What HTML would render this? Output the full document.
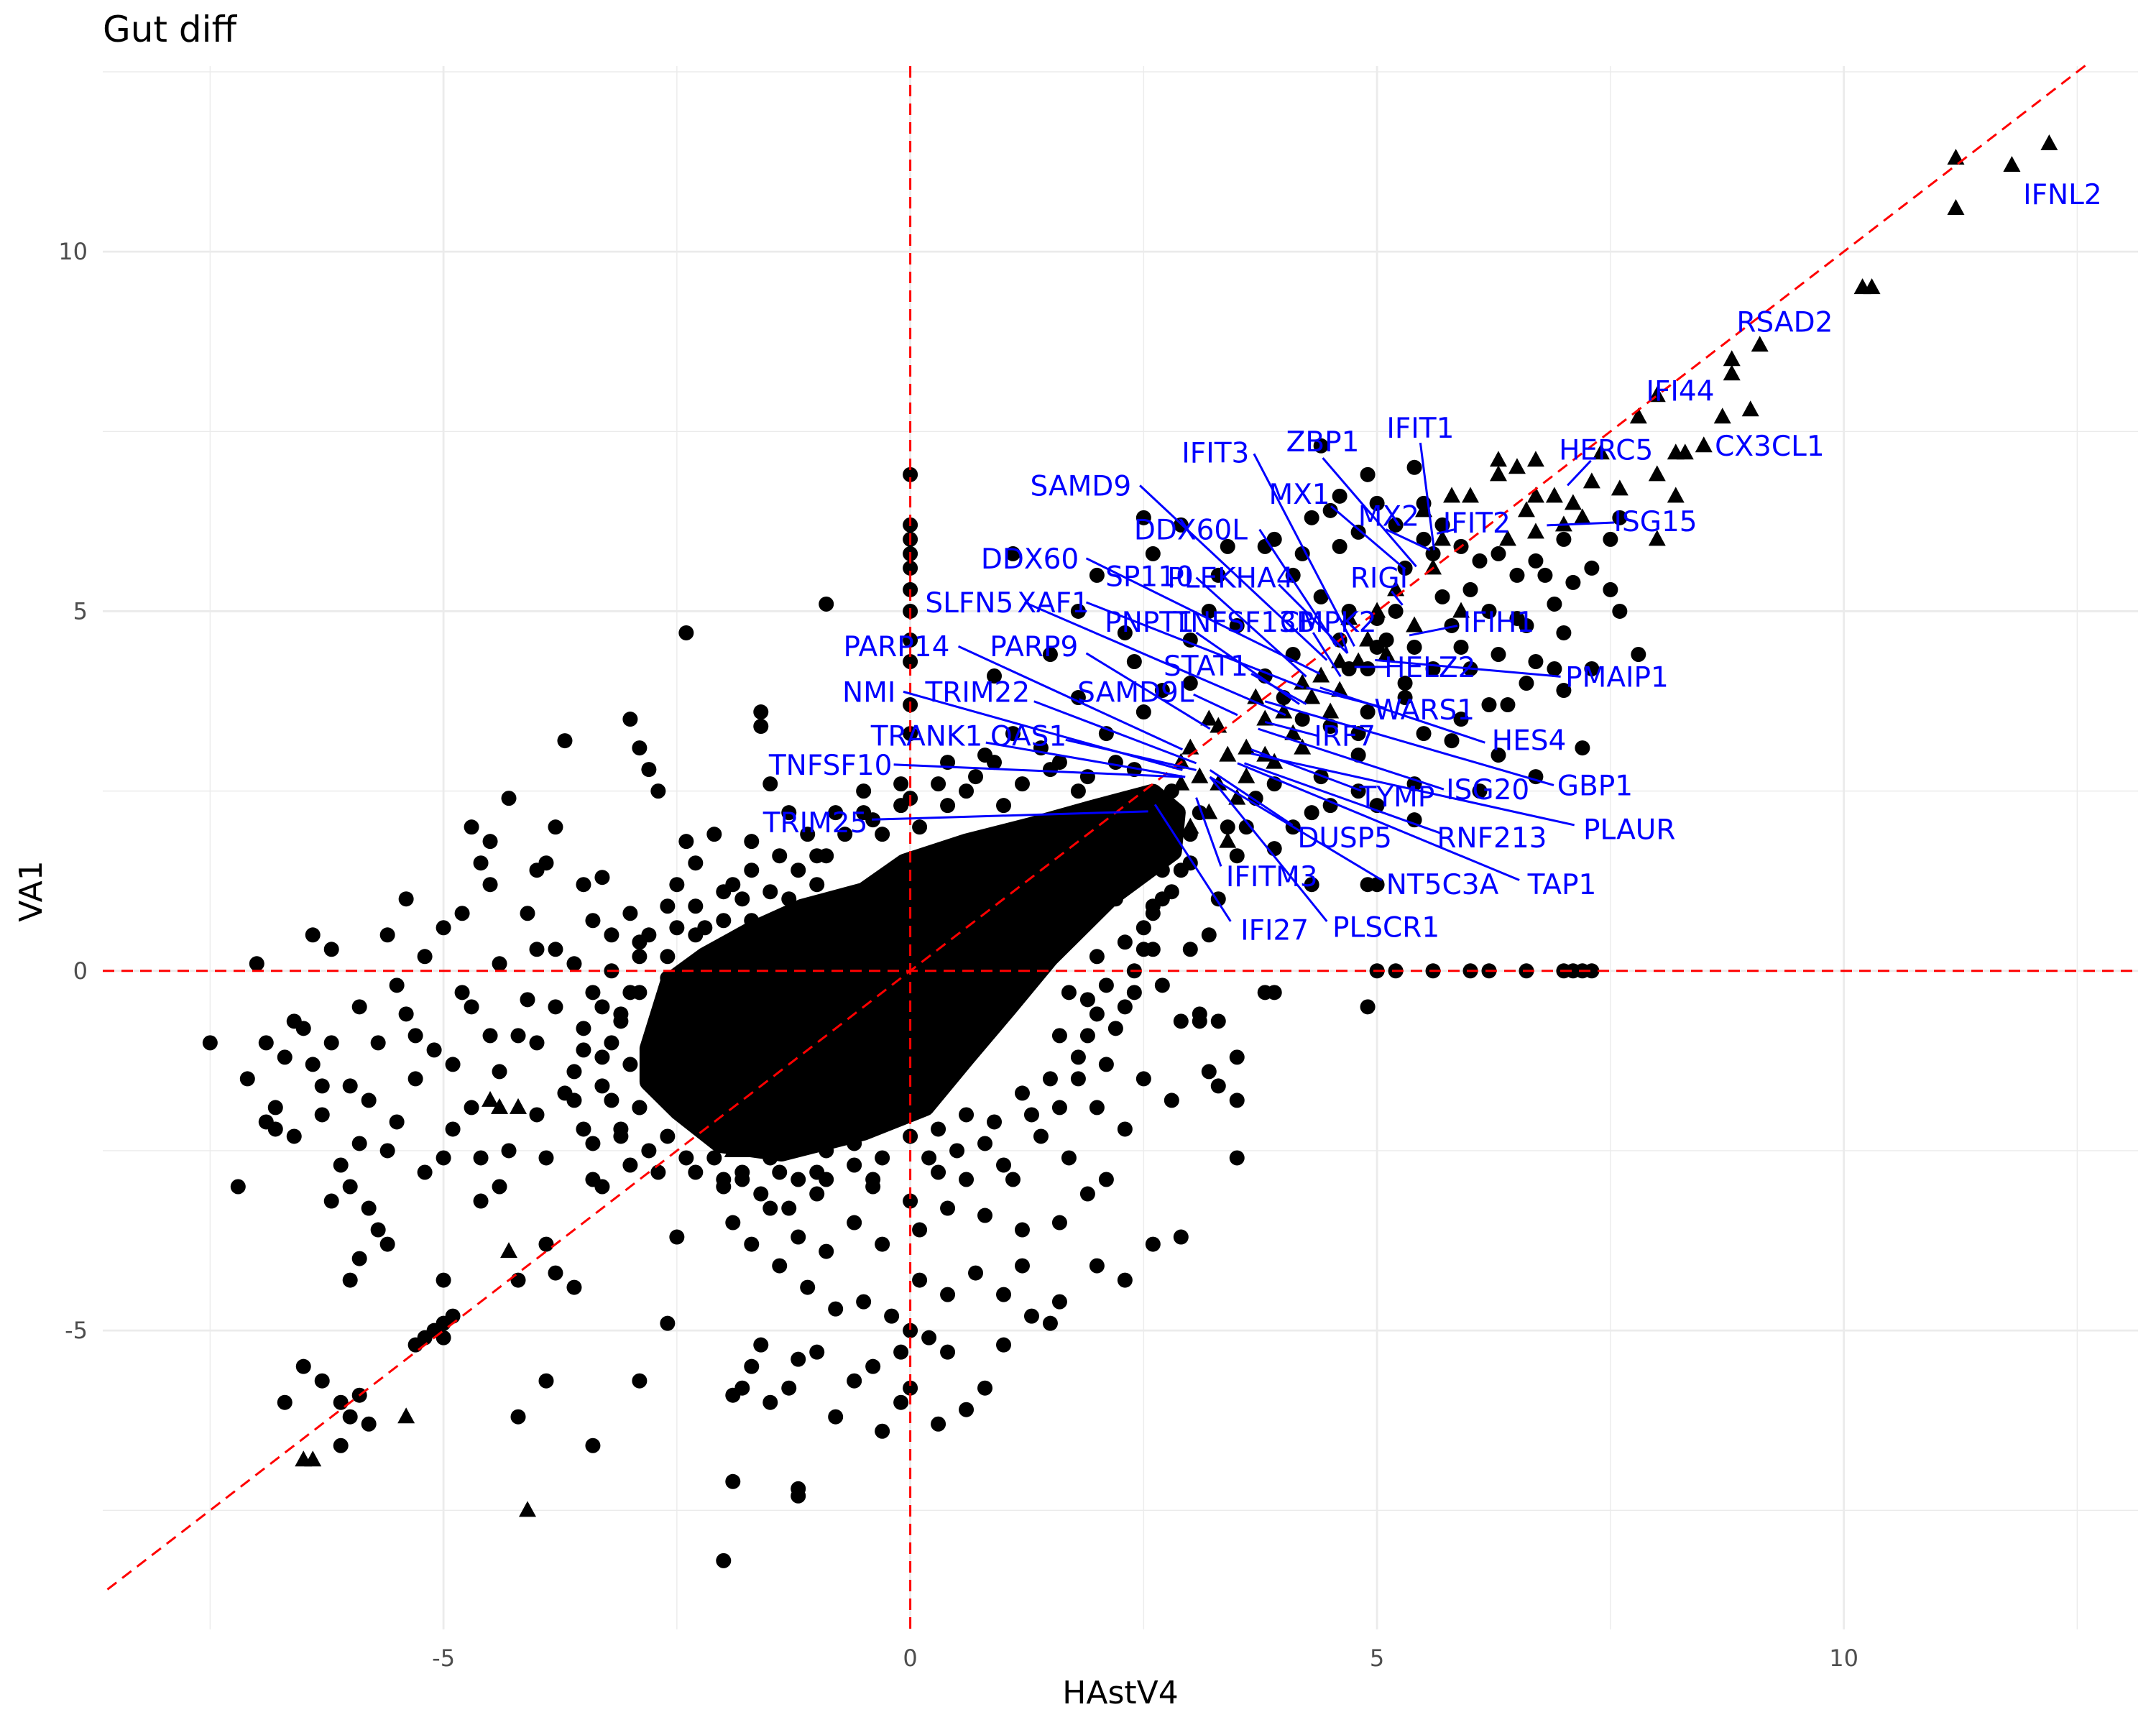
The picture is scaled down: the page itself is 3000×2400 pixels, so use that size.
<!DOCTYPE html>
<html><head><meta charset="utf-8"><style>
html,body{margin:0;padding:0;background:#fff;}
svg{display:block;font-family:"DejaVu Sans","Liberation Sans",sans-serif;}
</style></head><body>
<svg id="chart" width="3000" height="2400" viewBox="0 0 3000 2400" xmlns="http://www.w3.org/2000/svg">
<rect width="3000" height="2400" fill="#fff"/>
<text x="143" y="58" font-size="50" fill="#000">Gut diff</text>
<g id="grid"></g>
<g id="marks"></g>
<g id="refs"></g>
<g id="labels"></g>
<g id="axes"></g>
<text x="1559" y="2370" font-size="44" text-anchor="middle" fill="#000">HAstV4</text>
<text x="0" y="0" font-size="44" text-anchor="middle" fill="#000" transform="translate(58,1240) rotate(-90)">VA1</text>
</svg>
<script>
const xTicks=[-5,0,5,10];
const yTicks=[-5,0,5,10];
const xMinor=[-7.5,-2.5,2.5,7.5,12.5];
const yMinor=[-7.5,-2.5,2.5,7.5,12.5];
const triangles=[[12.2,11.5],[11.8,11.2],[11.2,11.3],[11.2,10.6],[10.2,9.5],[10.3,9.5],[9.1,8.7],[8.8,8.5],[8.8,8.3],[8.0,8.0],[7.8,7.7],[8.7,7.7],[9.0,7.8],[8.3,7.2],[8.2,7.2],[8.5,7.3],[8.0,6.9],[8.2,6.6],[7.6,6.7],[7.3,6.8],[7.1,6.5],[6.5,7.0],[6.3,7.1],[6.7,7.1],[7.4,7.2],[6.9,6.6],[6.7,6.6],[6.6,6.4],[7.2,6.3],[8.0,6.0],[7.0,6.2],[6.3,6.9],[6.0,6.6],[5.8,6.6],[5.5,6.4],[6.4,6.0],[6.7,6.1],[5.7,6.0],[5.6,5.6],[5.2,5.3],[5.0,5.0],[4.7,4.9],[4.9,4.6],[4.6,4.3],[4.4,4.1],[4.3,3.8],[4.0,3.6],[4.1,3.3],[3.8,3.5],[3.6,3.1],[3.4,3.0],[3.3,3.4],[3.7,3.8],[4.2,3.1],[4.5,3.6],[3.9,2.9],[3.1,2.7],[2.9,2.6],[3.0,3.1],[3.2,3.5],[5.9,5.0],[5.4,4.8],[5.1,4.4],[4.6,3.9],[3.5,2.4],[3.2,2.2],[2.8,2.2],[3.6,2.7],[3.3,2.6],[3.0,2.0],[3.4,1.8],[2.9,2.9],[3.8,3.0],[4.2,4.0],[4.8,4.3],[-6.5,-6.8],[-6.4,-6.8],[-5.4,-6.2],[-4.1,-7.5],[-4.3,-3.9],[-4.2,-1.9],[-4.5,-1.8],[-4.4,-1.9],[-1.9,-2.5],[-1.8,-2.5]];
const circles=[[-7.5,-1.0],[-7.2,-3.0],[-7.1,-1.5],[-7.0,0.1],[-6.9,-2.1],[-6.8,-1.9],[-6.7,-6.0],[-6.6,-2.3],[-6.5,-0.8],[-6.4,-1.3],[-6.3,-2.0],[-6.2,-1.0],[-6.1,-2.7],[-6.0,-1.6],[-6.0,-3.0],[-5.9,-0.5],[-5.8,-1.8],[-5.7,-3.6],[-5.6,-3.8],[-5.5,-2.1],[-5.5,-0.2],[-5.4,-0.6],[-5.3,-1.5],[-5.2,-2.8],[-5.1,-1.1],[-5.0,-4.3],[-5.0,-5.1],[-4.9,-2.2],[-4.8,-0.3],[-4.7,-1.9],[-4.6,-3.2],[-4.5,-0.9],[-4.4,-1.4],[-4.3,-2.5],[-4.2,-6.2],[-4.1,-0.4],[-4.0,-1.0],[-4.0,-2.0],[-3.9,-5.7],[-3.8,0.3],[-3.7,-1.7],[-3.6,-4.4],[-3.5,-0.8],[-3.4,-2.9],[-3.3,-1.2],[-3.2,0.5],[-3.1,-2.3],[-3.0,-0.3],[-2.9,-1.9],[-2.9,-5.7],[-3.0,3.5],[-2.9,3.1],[-2.8,2.8],[-2.7,2.5],[-2.6,-4.9],[-2.5,-3.7],[-3.4,-6.6],[-5.8,-6.3],[-5.9,-5.9],[-6.0,-6.2],[-6.1,-6.0],[-6.3,-5.7],[-6.5,-5.5],[-6.1,-6.6],[-5.3,-5.2],[-5.2,-5.1],[-5.1,-5.0],[-5.0,-4.9],[-4.9,-4.8],[-5.0,0.6],[-4.8,0.8],[-4.5,1.2],[-4.0,1.4],[-4.3,2.4],[-4.6,1.5],[-4.5,1.8],[-3.8,2.0],[-3.9,1.5],[-3.5,1.2],[-3.0,0.8],[-4.7,-0.5],[-5.6,0.5],[-5.2,0.2],[-5.4,1.0],[-6.4,0.5],[-6.2,0.3],[-6.6,-0.7],[-6.7,-1.2],[-6.2,-3.2],[-6.0,-4.3],[-5.8,-3.3],[-5.6,-2.5],[-5.0,-2.6],[-4.4,-3.0],[-3.9,-3.8],[-3.8,-4.2],[-4.2,-4.3],[-3.3,-3.0],[-3.5,-2.2],[-2.8,-2.5],[-3.8,-0.5],[-4.1,0.8],[-3.6,0.1],[-3.3,1.3],[-4.7,2.0],[-2.4,4.7],[-3.7,3.2],[-5.7,-1.0],[-6.8,-2.2],[-5.9,-4.0],[-6.9,-1.0],[-6.3,-1.6],[-5.9,-2.4],[-5.3,-0.9],[-4.9,-1.3],[-4.6,-2.6],[-4.2,-0.9],[-3.9,-2.6],[-3.6,-1.4],[-3.2,-1.8],[-3.1,-0.7],[-2.9,0.2],[-3.4,0.7],[-4.0,0.3],[-4.4,0.1],
[-2.0,-8.2],[-1.9,-7.1],[-1.2,-7.3],[-1.2,-7.2],[-1.9,-5.9],[-1.8,-5.8],[-1.7,-5.5],[-1.6,-5.2],[-1.5,-6.0],[-1.3,-5.8],[-1.2,-5.4],[-1.0,-5.3],[-0.8,-6.2],[-0.6,-5.7],[-0.4,-5.5],[-0.3,-6.4],[-0.1,-6.0],[0,-5.8],[0.2,-5.1],[0.3,-6.3],[0.6,-6.1],[0.8,-5.8],[0.4,-5.3],[1.0,-5.2],[1.3,-4.8],[1.5,-4.9],[1.6,-4.6],[1.0,-4.5],[0.7,-4.2],[0.4,-4.5],[0.1,-4.3],[-0.2,-4.8],[-0.5,-4.6],[-0.8,-4.7],[-1.1,-4.4],[-1.4,-4.1],[-1.7,-3.8],[-1.9,-3.5],[-1.5,-3.3],[-1.2,-3.7],[-0.9,-3.9],[-0.6,-3.5],[-0.3,-3.8],[0.1,-3.6],[0.4,-3.3],[0.8,-3.4],[1.2,-3.6],[1.6,-3.5],[1.9,-3.1],[2.1,-2.9],[2.3,-4.3],[2.6,-3.8],[2.0,-4.1],[1.2,-4.1],[-2.0,-3.0],[-2.3,-2.8],[-0.4,-3.0],[0.3,-2.8],[1.0,-2.7],[1.7,-2.6],[2.3,-2.2],[2.8,-1.8],[3.2,-1.4],[3.5,-1.2],[3.3,-1.6],[3.9,-0.3],[2.9,-3.7],[3.5,-2.6],[2.5,-1.5],[2.9,-0.7],[2.7,-0.2],[2.3,-0.5],[3.0,0.3],[3.2,0.5],[2.6,0.9],[-1.0,-3.1],[-1.4,-2.8],[0.0,-3.2],[0.6,-2.9],[1.4,-2.3],[2.0,-1.9],[-0.6,-2.7],[-1.8,-2.9],
[0,6.9],[0,6.2],[0,6.0],[0,5.8],[0,5.6],[0,5.3],[0,5.0],[0,4.6],[0,4.3],[0,3.7],[0,3.3],[-0.1,2.6],[0,2.4],[0,-5.0],[-0.1,-5.3],[-0.9,5.1],[-1.5,2.6],[-1.7,1.8],[-2.1,1.9],[-2.3,1.5],[-2.4,1.8],[-1.6,3.6],[-1.6,3.4],[-1.3,2.2],[-2.6,0.9],[-2.9,0.4],[-2.2,-1.6],[-2.2,0.6],[-1.0,1.6],[-0.5,2.2],[-1.9,1.2],[-2.5,1.2],
[5.0,0],[5.2,0],[5.6,0],[6.0,0],[6.2,0],[6.6,0],[7.1,0],[7.2,0],[7.3,0],[7.0,0],[4.9,-0.5],[3.8,-0.3],[3.1,-0.7],[3.3,-0.7],[3.5,-1.8],
[1.1,5.8],[2.5,6.3],[2.9,6.2],[2.6,5.8],[2.0,5.5],[1.8,5.0],[2.3,4.7],[2.4,4.3],[1.5,4.4],[0.9,4.1],[1.8,3.8],[2.5,3.6],[2.7,3.9],[3.0,4.0],[1.1,3.3],[0.4,2.9],[0.8,3.0],[1.4,3.1],[2.1,3.3],[1.6,2.9],[3.0,4.6],[3.2,5.0],[3.3,5.5],[3.4,5.9],[3.5,4.8],
[4.4,7.3],[4.6,6.6],[4.5,6.4],[4.8,6.1],[4.3,6.3],[4.6,5.9],[4.2,5.8],[3.8,5.9],[3.9,6.0],[4.1,5.5],[4.4,5.2],[4.7,5.0],[5.0,4.9],[5.3,5.6],[5.5,6.0],[5.7,6.2],[5.2,6.2],[5.0,6.5],[4.9,6.9],[5.4,7.0],[5.5,6.5],[5.6,5.8],[5.9,5.9],[6.1,5.7],[6.3,5.8],[6.0,5.3],[6.2,5.0],[5.8,4.8],[5.4,4.5],[5.1,4.6],[4.9,4.2],[5.3,4.0],[5.6,4.2],[5.9,4.5],[6.3,4.4],[6.6,4.8],[6.9,5.1],[7.1,5.4],[7.3,5.6],[7.5,5.3],[7.6,5.0],[7.0,4.7],[6.7,4.3],[6.6,4.0],[6.4,3.7],[6.2,3.7],[5.9,3.5],[5.5,3.3],[5.8,3.2],[6.3,3.0],[6.7,2.7],[6.1,2.5],[5.4,2.6],[5.0,2.3],[5.4,2.1],[4.8,2.5],[4.5,2.3],[4.4,2.7],[4.8,3.0],[4.5,3.4],[4.9,3.6],[4.2,3.5],[4.0,3.8],[3.8,4.1],[4.1,4.4],[4.6,4.6],[7.2,3.1],[7.0,3.9],[7.8,4.4],[7.3,4.2],[6.9,4.2],[6.5,4.9],[6.0,4.2],[6.8,5.5],[7.6,6.3],[7.5,6.0],[7.0,6.0],[6.7,5.7],[6.5,5.5],[4.8,3.3],[5.3,3.8],[3.9,2.6],[4.3,2.2],[4.9,1.2],[5.0,1.2],[4.3,1.2],[3.9,1.7],[3.6,2.0],[4.1,2.0],[3.3,1.0],[3.5,1.6],[2.8,1.1],[2.6,0.8],[3.1,-0.6],[2.4,-0.3],[2.5,0.3],[2.2,1.0],[5.7,5.2],[5.2,5.0],[5.0,4.5],[4.7,4.2],[3.7,2.4],[3.4,2.0],[3.0,1.5],[2.7,1.4],
[-2.9,-0.3],[-2.6,0.2],[-2.3,0.5],[-2.0,0.7],[-1.8,1.0],[-1.5,1.1],[-1.2,1.4],[-0.9,1.6],[-0.7,1.9],[-0.4,2.1],[-0.1,2.3],[0.3,2.6],[0.6,2.5],[0.9,2.9],[1.2,2.6],[1.5,2.8],[1.9,2.7],[2.2,2.9],[2.4,2.8],[-1.7,0.7],[-2.4,0.0],[-1.0,1.2],[0.1,2.0],[1.0,2.3],
[-3.1,-0.6],[-3.2,-1.0],[-3.0,-1.3],[-3.3,-1.6],[-2.9,-1.9],[-3.1,-2.2],[-2.6,-2.3],[-2.4,-2.6],[-2.1,-2.6],
[-1.8,-2.8],[-1.5,-2.6],[-1.2,-2.9],[-0.9,-2.5],[-0.6,-2.4],[-0.3,-2.6],[0,-2.3],[0.3,-2.2],[0.6,-2.0],[0.9,-2.1],[1.2,-1.7],[1.5,-1.5],[-1.6,-3.1],[-1.3,-3.3],[-0.9,-2.9],[0.2,-2.6],[0.8,-2.4],[1.1,-2.9],
[1.6,-0.9],[1.9,-0.4],[2.1,-0.2],[2.3,0.4],[2.5,0.6],[2.7,1.0],[2.9,1.4],[3.0,1.9],[3.1,2.2],[2.8,2.5],[1.8,-1.2],[2.1,-1.3],[2.0,0.2],[1.7,-0.3],
[-3.4,-0.3],[-3.5,-1.1],[-3.3,-0.5],[-3.6,-1.8],[-3.4,-2.4],[-3.0,-2.7],[-2.7,-2.8],[-3.2,0.0],[-2.8,0.5],[-2.5,0.6],[-2.3,0.9],[-2.0,1.1],[-1.7,1.4],[-1.4,1.6],[-1.1,1.9],[-0.8,2.2],[-0.5,2.5],[-0.3,1.9],[-1.3,1.0],[-2.6,-0.1],[-2.0,-2.9],[-1.0,-2.8],[-0.4,-2.9],[0.5,-2.5],[1.3,-2.0],[1.6,-1.9],[1.9,-0.9],[2.2,-0.8],[2.4,0.0],[2.6,0.3],[1.8,-1.5],[2.0,-0.6],[0.4,2.3],[0.7,2.7],[1.8,2.5],[2.6,2.1]];
// dense core outline (data units) of overplotted region
const coreX=[-2.8,-2.58,-2.2,-1.74,-1.16,-0.5,-0.06,0.6,1.27,1.93,2.6,2.85,2.81,2.15,1.49,1.05,0.6,0.16,-0.5,-1.38,-2.04,-2.48,-2.8];
const coreY=[-1.08,-0.16,0.2,0.53,0.87,1.1,1.5,1.78,2.0,2.24,2.47,2.2,1.66,1.03,0.18,-0.51,-1.2,-1.89,-2.23,-2.52,-2.4,-1.95,-1.54];
// gene labels: [name] and [textX, textY, lineX1, lineY1, lineX2, lineY2] (reference layout px, display scale)
const labelNames=["IFNL2","RSAD2","IFI44","CX3CL1","HERC5","ISG15","IFIT1","ZBP1","IFIT3","MX1","MX2","IFIT2","SAMD9","DDX60L","RIGI","DDX60","SP110","PLEKHA4","SLFN5","XAF1","PNPT1","TNFSF13B","CMPK2","IFIH1","PARP14","PARP9","STAT1","HELZ2","PMAIP1","NMI","TRIM22","SAMD9L","WARS1","IRF7","HES4","TRANK1","OAS1","TNFSF10","GBP1","TYMP","ISG20","TRIM25","PLAUR","RNF213","DUSP5","NT5C3A","TAP1","IFITM3","IFI27","PLSCR1"];
const labelPos=[[1500,141,0,0,0,0],[1298,234,0,0,0,0],[1222,284,0,0,0,0],[1287,324,0,0,0,0],[1168,327,1157,335,1140,353],[1204,379,1174,380,1125,382],[1033,311,1033,322,1043,400],[962,321,962,333,1030,412],[884,329,912,330,985,470],[945,359,968,368,1022,414],[1010,375,1008,385,1040,400],[1074,380,1058,385,1045,388],[786,353,829,353,965,480],[866,385,916,385,972,470],[1003,420,1012,430,1020,440],[749,406,790,406,960,490],[836,419,870,420,950,492],[895,420,930,425,980,475],[705,438,745,438,935,520],[766,438,790,438,948,500],[836,452,870,460,945,512],[905,452,955,460,975,492],[966,452,975,460,980,475],[1090,452,1060,455,1025,462],[652,470,697,470,860,545],[752,470,790,475,880,530],[877,484,910,490,950,512],[1040,485,1010,485,985,485],[1176,492,1135,492,1000,480],[632,503,657,503,860,560],[711,503,752,510,870,555],[826,503,868,505,900,520],[1036,516,1008,515,950,500],[978,535,958,535,920,525],[1112,538,1080,540,960,500],[674,535,717,540,862,565],[748,535,775,538,870,560],[604,556,650,556,860,565],[1160,571,1130,571,920,510],[1016,579,990,575,910,545],[1082,574,1050,574,915,530],[593,598,634,596,835,590],[1185,603,1145,600,910,548],[1085,609,1048,606,905,555],[978,609,940,600,880,560],[1049,643,1005,640,880,565],[1136,643,1105,640,900,555],[925,637,888,630,870,580],[927,676,895,670,840,585],[1008,674,965,670,880,565]];

const NS="http://www.w3.org/2000/svg";
const X0=1266.6, XS=129.9, Y0=1350.8, YS=100.07;
const PL=143, PR=2975, PT=92, PB=2267;
const sx=v=>X0+v*XS, sy=v=>Y0-v*YS;
const D=3000/1568;
function mk(tag,attrs,parent){const e=document.createElementNS(NS,tag);for(const k in attrs)e.setAttribute(k,attrs[k]);parent.appendChild(e);return e;}
const grid=document.getElementById('grid');
xMinor.forEach(v=>{const l=mk('line',{x1:sx(v),x2:sx(v),y1:PT,y2:PB,stroke:'#ebebeb','stroke-width':1.4},grid);

});
yMinor.forEach(v=>{const l=mk('line',{x1:PL,x2:PR,y1:sy(v),y2:sy(v),stroke:'#ebebeb','stroke-width':1.4},grid);

});
xTicks.forEach(v=>{const l=mk('line',{x1:sx(v),x2:sx(v),y1:PT,y2:PB,stroke:'#ebebeb','stroke-width':2.8},grid);

});
yTicks.forEach(v=>{const l=mk('line',{x1:PL,x2:PR,y1:sy(v),y2:sy(v),stroke:'#ebebeb','stroke-width':2.8},grid);

});
const axes=document.getElementById('axes');
xTicks.forEach(v=>{const t=mk('text',{x:sx(v),y:2318,'font-size':32,'text-anchor':'middle',fill:'#4d4d4d'},axes);t.textContent=v;

});
yTicks.forEach(v=>{const t=mk('text',{x:122,y:sy(v)+11,'font-size':32,'text-anchor':'end',fill:'#4d4d4d'},axes);t.textContent=v;

});
const marks=document.getElementById('marks');
const core=mk('polygon',{points:coreX.map((x,i)=>sx(x)+','+sy(coreY[i])).join(' '),fill:'#000',stroke:'#000','stroke-width':26,'stroke-linejoin':'round'},marks);


circles.forEach(p=>{const c=mk('circle',{cx:sx(p[0]),cy:sy(p[1]),r:10.5,fill:'#000'},marks);

});
triangles.forEach(p=>{const x=sx(p[0]),y=sy(p[1]);const t=mk('polygon',{points:`${x},${y-13} ${x-12},${y+9} ${x+12},${y+9}`,fill:'#000'},marks);

});
const refs=document.getElementById('refs');
const dash={stroke:'#ff0000','stroke-width':3,'stroke-dasharray':'16 10',fill:'none'};
let r1=mk('line',Object.assign({x1:sx(0),x2:sx(0),y1:PT,y2:PB},dash),refs);


let r2=mk('line',Object.assign({x1:PL,x2:PR,y1:sy(0),y2:sy(0)},dash),refs);


let r3=mk('line',Object.assign({x1:sx(-8.6),y1:sy(-8.6),x2:sx(12.6),y2:sy(12.6)},dash),refs);


const labels=document.getElementById('labels');
labelNames.forEach((n,i)=>{const p=labelPos[i];
if(p[2]||p[3]){const l=mk('line',{x1:p[2]*D,y1:p[3]*D,x2:p[4]*D,y2:p[5]*D,stroke:'#0000ff','stroke-width':3},labels);

}
const t=mk('text',{x:p[0]*D,y:p[1]*D+14,'font-size':39,'text-anchor':'middle',fill:'#0000ff'},labels);t.textContent=n;

});
</script>
</body></html>
